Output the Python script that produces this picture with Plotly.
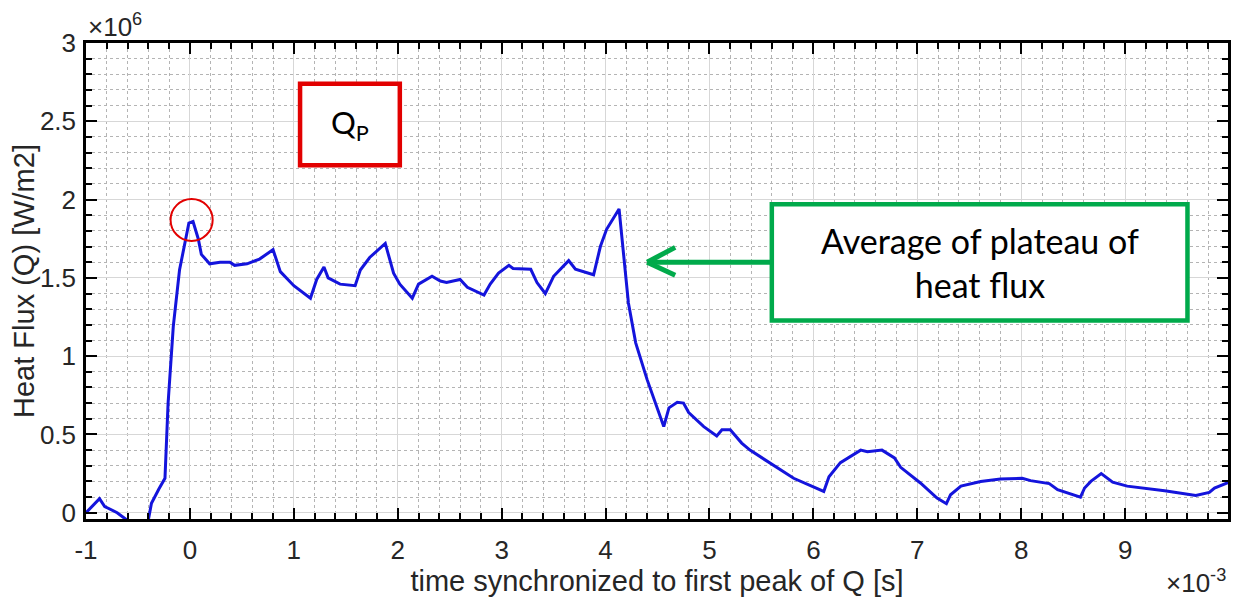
import plotly.graph_objects as go

# time in units of 1e-3 s, heat flux in units of 1e6 W/m2
t_ms = [-1.0, -0.87, -0.82, -0.70, -0.61, -0.50, -0.40, -0.37, -0.30, -0.24, -0.21, -0.16, -0.10,
        -0.01, 0.03, 0.08, 0.11, 0.19, 0.29, 0.385, 0.43, 0.55, 0.67, 0.80, 0.87, 1.00, 1.16, 1.22,
        1.29, 1.33, 1.445, 1.59, 1.64, 1.73, 1.88, 1.96, 2.02, 2.14, 2.20, 2.33, 2.41, 2.47, 2.60,
        2.67, 2.83, 2.89, 2.97, 3.07, 3.11, 3.28, 3.34, 3.42, 3.50, 3.645, 3.71, 3.885, 3.95, 4.01,
        4.13, 4.17, 4.22, 4.29, 4.40, 4.56, 4.61, 4.69, 4.75, 4.80, 4.945, 5.07, 5.12, 5.20, 5.31,
        5.39, 5.62, 5.81, 6.10, 6.15, 6.26, 6.455, 6.52, 6.66, 6.78, 6.84, 7.03, 7.19, 7.28, 7.32,
        7.42, 7.61, 7.80, 8.01, 8.09, 8.27, 8.35, 8.57, 8.61, 8.67, 8.77, 8.88, 9.02, 9.38, 9.68,
        9.81, 9.86, 10.0]
q_1e6 = [0.0, 0.09, 0.04, 0.0, -0.045, -0.10, -0.045, 0.06, 0.15, 0.22, 0.70, 1.19, 1.55,
         1.85, 1.86, 1.75, 1.65, 1.59, 1.60, 1.60, 1.58, 1.59, 1.62, 1.68, 1.54, 1.45, 1.37, 1.49,
         1.57, 1.50, 1.46, 1.45, 1.55, 1.63, 1.72, 1.53, 1.46, 1.37, 1.46, 1.51, 1.48, 1.47, 1.49,
         1.44, 1.39, 1.46, 1.53, 1.58, 1.56, 1.555, 1.47, 1.40, 1.51, 1.61, 1.555, 1.52, 1.70, 1.81,
         1.94, 1.66, 1.34, 1.085, 0.85, 0.55, 0.67, 0.705, 0.70, 0.64, 0.55, 0.49, 0.53, 0.53, 0.445,
         0.40, 0.30, 0.22, 0.136, 0.23, 0.32, 0.40, 0.39, 0.40, 0.35, 0.29, 0.19, 0.094, 0.058, 0.115,
         0.17, 0.20, 0.215, 0.22, 0.205, 0.186, 0.147, 0.10, 0.158, 0.20, 0.25, 0.195, 0.17, 0.14, 0.11,
         0.13, 0.158, 0.195]

x_ticks = [-1, 0, 1, 2, 3, 4, 5, 6, 7, 8, 9]
x_ticklabels = ["-1", "0", "1", "2", "3", "4", "5", "6", "7", "8", "9"]
y_ticks = [0, 0.5, 1, 1.5, 2, 2.5, 3]
y_ticklabels = ["0", "0.5", "1", "1.5", "2", "2.5", "3"]

x_title = "time synchronized to first peak of Q [s]"
y_title = "Heat Flux (Q) [W/m2]"
peak_label = "Q<sub>P</sub>"
plateau_label = "Average of plateau of<br>heat flux"

FONT = "Liberation Sans"
TXT = "rgb(38,38,38)"
RED = "rgb(226,0,0)"
GREEN = "rgb(0,170,75)"

fig = go.Figure()
fig.add_trace(go.Scatter(x=t_ms, y=q_1e6, mode="lines",
                         line=dict(color="rgb(20,20,220)", width=3), showlegend=False))

axis_common = dict(
    showline=True, linecolor="black", linewidth=2.5, mirror="ticks",
    ticks="inside", ticklen=11, tickwidth=2, tickcolor="black",
    showgrid=True, gridcolor="rgb(215,215,215)", gridwidth=1.2,
    zeroline=False, automargin=False,
    tickfont=dict(family=FONT, size=26, color=TXT),
)

fig.update_xaxes(
    range=[-1, 9.99], tickvals=x_ticks, ticktext=x_ticklabels,
    minor=dict(dtick=0.2, tick0=0, ticks="inside", ticklen=6, tickwidth=1.5, tickcolor="black",
               showgrid=True, gridcolor="rgb(180,180,180)", griddash="dot", gridwidth=1),
    title=dict(text=x_title, font=dict(family=FONT, size=29, color=TXT), standoff=4),
    ticklabelstandoff=6,
    **axis_common)
fig.update_yaxes(
    range=[-0.04, 3], tickvals=y_ticks, ticktext=y_ticklabels,
    minor=dict(dtick=0.1, tick0=0, ticks="inside", ticklen=6, tickwidth=1.5, tickcolor="black",
               showgrid=True, gridcolor="rgb(180,180,180)", griddash="dot", gridwidth=1),
    title=dict(text=y_title, font=dict(family=FONT, size=29, color=TXT), standoff=2),
    ticklabelstandoff=2,
    **axis_common)

# red circle at first peak
fig.add_shape(type="circle", xref="x", yref="y", x0=-0.186, x1=0.219, y0=1.736, y1=2.004,
              line=dict(color=RED, width=2))
# red box with Q_P
fig.add_shape(type="rect", xref="x", yref="y", x0=1.06, x1=2.02, y0=2.22, y1=2.74,
              line=dict(color=RED, width=4.5), fillcolor="white")
fig.add_annotation(x=1.54, y=2.48, xref="x", yref="y", text=peak_label, showarrow=False,
                   font=dict(family="Lato", size=31, color="black"))
# green box
fig.add_shape(type="rect", xref="x", yref="y", x0=5.60, x1=9.60, y0=1.228, y1=1.97,
              line=dict(color=GREEN, width=4.5), fillcolor="white")
fig.add_annotation(x=7.60, y=1.60, xref="x", yref="y", text=plateau_label, showarrow=False,
                   font=dict(family="Lato", size=34, color="black"))
# green arrow
fig.add_shape(type="line", xref="x", yref="y", x0=5.60, x1=4.41, y0=1.60, y1=1.60,
              line=dict(color=GREEN, width=5))
fig.add_shape(type="line", xref="x", yref="y", x0=4.40, x1=4.67, y0=1.60, y1=1.695,
              line=dict(color=GREEN, width=5))
fig.add_shape(type="line", xref="x", yref="y", x0=4.40, x1=4.67, y0=1.60, y1=1.516,
              line=dict(color=GREEN, width=5))

# exponent labels
fig.add_annotation(x=0, y=1, xref="paper", yref="paper", xanchor="left", yanchor="bottom",
                   text="×10<sup>6</sup>", showarrow=False, yshift=-1,
                   font=dict(family=FONT, size=26, color=TXT))
fig.add_annotation(x=1, y=0, xref="paper", yref="paper", xanchor="right", yanchor="top",
                   text="×10<sup>-3</sup>", showarrow=False, yshift=-44,
                   font=dict(family=FONT, size=26, color=TXT))

# page body has an 8px margin, so the figure is 8px smaller than the window
fig.update_layout(
    width=1231, height=594,
    margin=dict(l=78, r=11, t=35, b=83),
    paper_bgcolor="white", plot_bgcolor="white",
    showlegend=False,
)

fig.write_html("out.html")
